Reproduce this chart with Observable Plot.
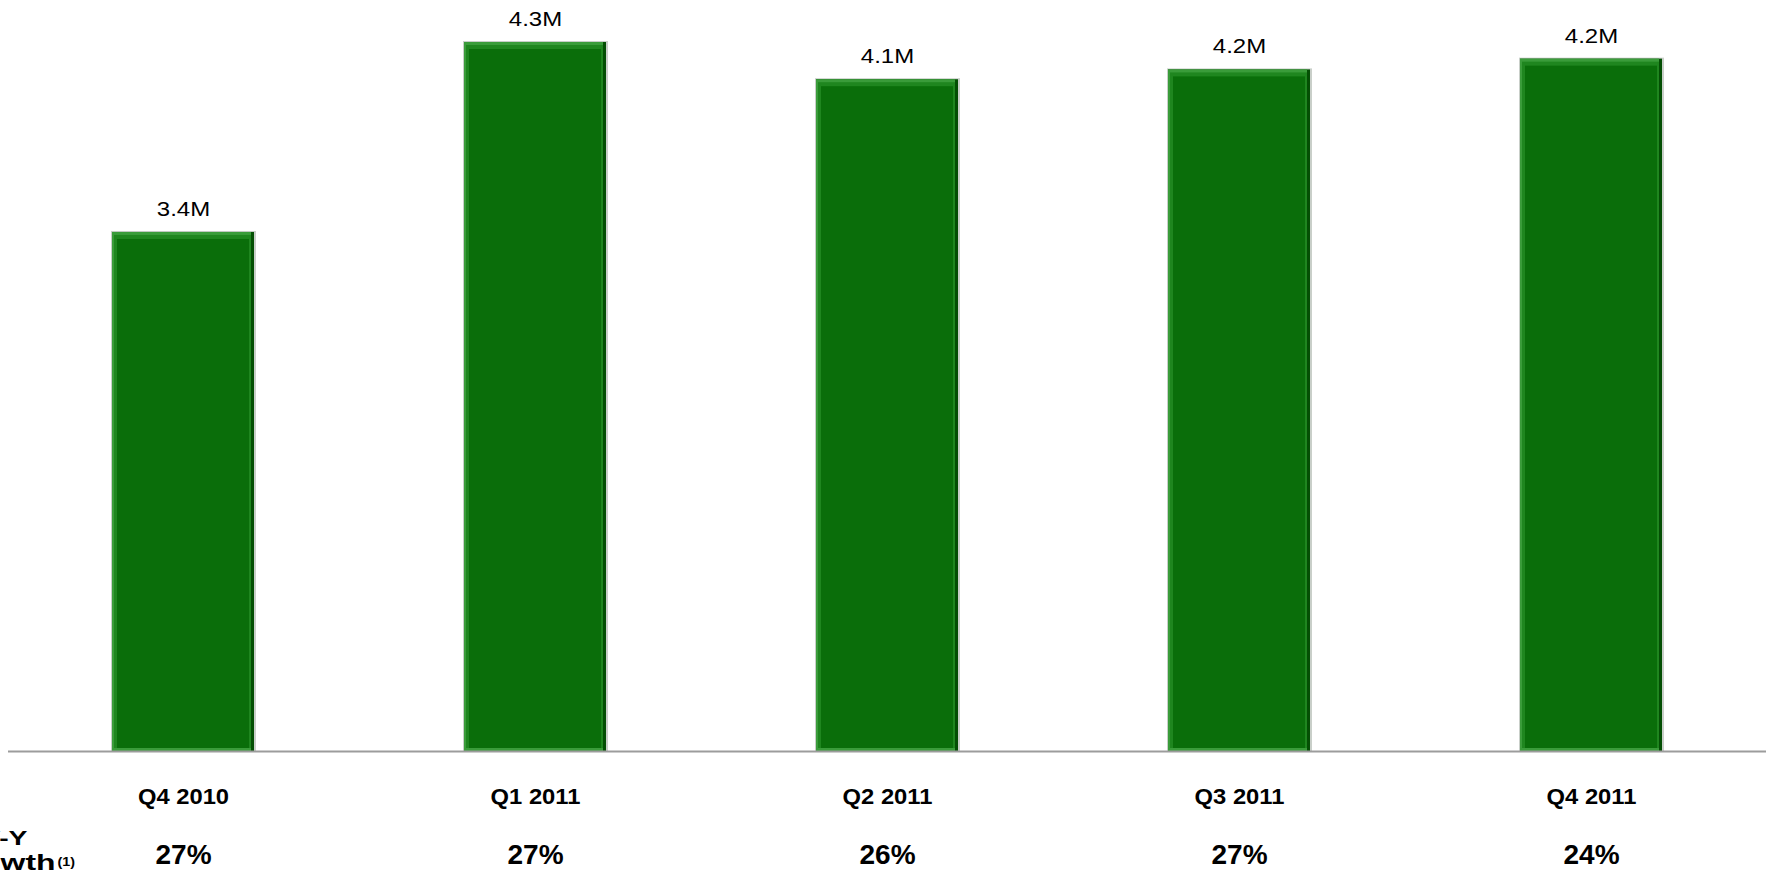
<!DOCTYPE html>
<html>
<head>
<meta charset="utf-8">
<script src="https://cdn.jsdelivr.net/npm/d3@7"></script>
<script src="https://cdn.jsdelivr.net/npm/@observablehq/plot@0.6"></script>
<style>
  html, body { margin: 0; padding: 0; background: #ffffff; }
  #chart svg { display: block; }
</style>
</head>
<body>
<div id="chart"></div>
<script>
// Quarters and values (millions); y axis of the original does not start at zero
const quarters = ["Q4 2010", "Q1 2011", "Q2 2011", "Q3 2011", "Q4 2011"];
const values = [3.36, 4.33, 4.14, 4.19, 4.245];
const valueLabels = ["3.4M", "4.3M", "4.1M", "4.2M", "4.2M"];
const growthLabels = ["27%", "27%", "26%", "27%", "24%"];
const rowLabel = ["Y-Y", "Growth", "(1)"];
const yBase = 0.71;

const data = quarters.map((q, i) => ({
  q, v: values[i], label: valueLabels[i], growth: growthLabels[i]
}));

const font = "Liberation Sans, Arial, Helvetica, sans-serif";

const chart = Plot.plot({
  width: 1771,
  height: 887,
  marginLeft: 8,
  marginRight: 5,
  marginTop: 42,
  marginBottom: 136,
  style: { fontFamily: font, background: "#ffffff", overflow: "visible" },
  x: { domain: quarters, paddingInner: 0.598, paddingOuter: 0.292, axis: null },
  y: { domain: [yBase, 4.33], axis: null },
  marks: [
    // soft shadow outline
    Plot.rectY(data, { x: "q", y1: yBase, y2: "v", fill: "#c9cfc9", insetLeft: -1, insetRight: -2, insetTop: -1 }),
    // dark bevel (right/bottom)
    Plot.rectY(data, { x: "q", y1: yBase, y2: "v", fill: "#044f04" }),
    // light bevel (top/left)
    Plot.rectY(data, { x: "q", y1: yBase, y2: "v", fill: "#3a9c3a", insetRight: 3 }),
    Plot.rectY(data, { x: "q", y1: yBase, y2: "v", fill: "#1f861f", insetTop: 3, insetLeft: 2, insetRight: 3, insetBottom: 3 }),
    // main face
    Plot.rectY(data, { x: "q", y1: yBase, y2: "v", fill: "#0a6e0a", insetTop: 7, insetLeft: 5, insetRight: 5, insetBottom: 3 }),
    // baseline
    Plot.ruleY([yBase], { stroke: "#9c9c9c", strokeWidth: 2 }),
    // value labels
    Plot.text(data, { x: "q", y: "v", text: "label", dy: -23, fontSize: 20, fill: "#000000", lineAnchor: "middle" }),
    // quarter labels
    Plot.text(data, { x: "q", frameAnchor: "bottom", lineAnchor: "middle", text: "q", dy: 45, fontSize: 22, fontWeight: "bold", fill: "#000000" }),
    // growth values
    Plot.text(data, { x: "q", frameAnchor: "bottom", lineAnchor: "middle", text: "growth", dy: 104, fontSize: 28, fontWeight: "bold", fill: "#000000" }),
    // row label (clipped at the left edge in the original)
    Plot.text([rowLabel[0]], { frameAnchor: "bottom-left", lineAnchor: "middle", text: d => d, textAnchor: "end", dx: 19, dy: 87, fontSize: 21, fontWeight: "bold", fill: "#000000" }),
    Plot.text([rowLabel[1]], { frameAnchor: "bottom-left", lineAnchor: "middle", text: d => d, textAnchor: "end", dx: 47, dy: 111, fontSize: 22, fontWeight: "bold", fill: "#000000" }),
    Plot.text([rowLabel[2]], { frameAnchor: "bottom-left", lineAnchor: "middle", text: d => d, textAnchor: "start", dx: 49, dy: 110, fontSize: 13, fontWeight: "bold", fill: "#000000" })
  ]
});

// horizontal stretch of text, as in the original rendering (per text mark, in mark order)
const stretch = [1.2, 1.08, 1.0, 1.35, 1.45, 1.1];
const textGroups = chart.querySelectorAll('g[aria-label="text"]');
textGroups.forEach((g, k) => {
  const s = stretch[k] ?? 1;
  if (s === 1) return;
  g.querySelectorAll("text").forEach(t => {
    let tr = t.getAttribute("transform");
    if (!tr) {
      const x = +(t.getAttribute("x") || 0), y = +(t.getAttribute("y") || 0);
      t.removeAttribute("x"); t.removeAttribute("y");
      tr = `translate(${x},${y})`;
    }
    t.setAttribute("transform", `${tr} scale(${s},1)`);
  });
});

document.getElementById("chart").appendChild(chart);
</script>
</body>
</html>
